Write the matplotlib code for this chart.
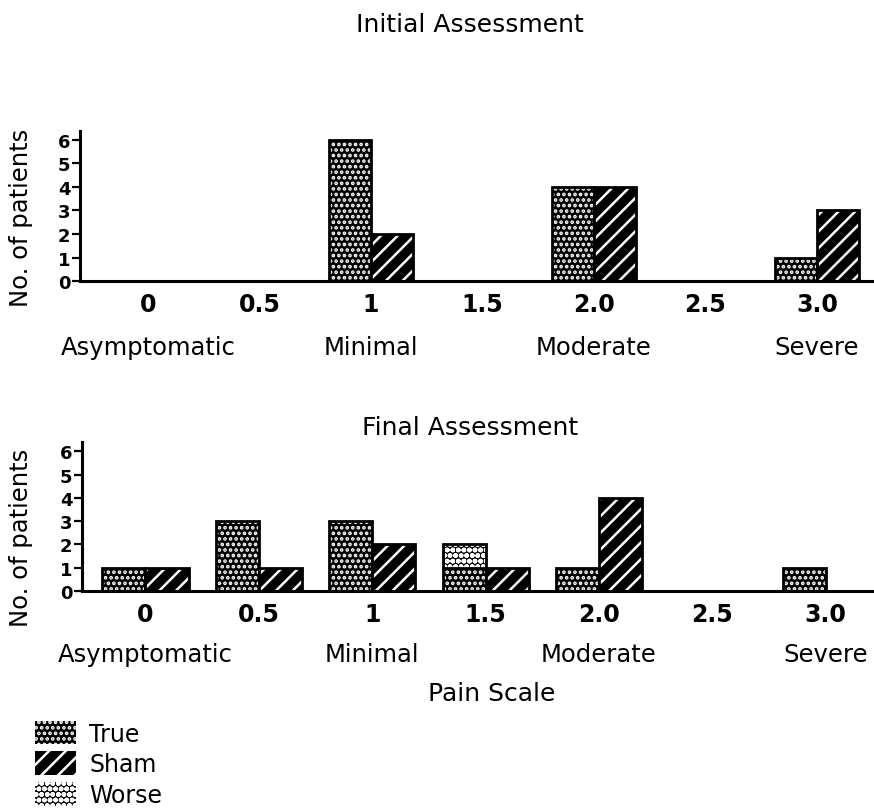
import matplotlib
matplotlib.use("Agg")
import matplotlib.pyplot as plt
from matplotlib.patches import Patch

plt.rcParams['font.family'] = 'DejaVu Sans'
plt.rcParams['hatch.linewidth'] = 1.8

### Data ###

# pain scale positions and their tick labels
pain_scale = [0, 0.5, 1, 1.5, 2.0, 2.5, 3.0]
tick_labels = ['0', '0.5', '1', '1.5', '2.0', '2.5', '3.0']
scale_words = ['Asymptomatic', 'Minimal', 'Moderate', 'Severe']
scale_word_pos = [0, 1, 2, 3]

# number of patients per pain score
initial_true = [0, 0, 6, 0, 4, 0, 1]
initial_sham = [0, 0, 2, 0, 4, 0, 3]
final_true = [1, 3, 3, 1, 1, 0, 1]
final_sham = [1, 1, 2, 1, 4, 0, 0]
final_worse = [0, 0, 0, 1, 0, 0, 0]   # stacked on the True bar

### Styles ###

BAR_W = 0.19
TRUE_STYLE = dict(facecolor='black', edgecolor='white', hatch='...')
SHAM_STYLE = dict(facecolor='black', edgecolor='white', hatch='//')
WORSE_STYLE = dict(facecolor='black', edgecolor='white', hatch='ooo')


def hatched_bars(ax, xs, heights, style, bottoms=None):
    """
    Draws patterned bars (white pattern on black) with a black outline.
    Zero-height bars are skipped.
    """
    if bottoms is None:
        bottoms = [0] * len(heights)
    keep = [i for i, h in enumerate(heights) if h > 0]
    xs = [xs[i] for i in keep]
    hs = [heights[i] for i in keep]
    bs = [bottoms[i] for i in keep]
    ax.bar(xs, hs, BAR_W, bottom=bs, linewidth=0, **style)
    ax.bar(xs, hs, BAR_W, bottom=bs, fill=False, edgecolor='black',
           linewidth=2)


def draw_panel(ax, true_vals, sham_vals, worse_vals, xlim, ytop, word_off):
    """
    One assessment panel: True / Sham bar pairs around each pain score.
    """
    x_true = [x - BAR_W / 2 for x in pain_scale]
    x_sham = [x + BAR_W / 2 for x in pain_scale]

    hatched_bars(ax, x_true, true_vals, TRUE_STYLE)
    hatched_bars(ax, x_sham, sham_vals, SHAM_STYLE)
    if worse_vals is not None:
        hatched_bars(ax, x_true, worse_vals, WORSE_STYLE, bottoms=true_vals)

    ax.set_xlim(*xlim)
    ax.set_ylim(0, ytop)
    for side in ['top', 'right']:
        ax.spines[side].set_visible(False)
    for side in ['left', 'bottom']:
        ax.spines[side].set_linewidth(2.2)

    ax.set_xticks(pain_scale)
    ax.set_xticklabels(tick_labels, fontsize=17, fontweight='bold')
    ax.tick_params(axis='x', length=0, pad=8)
    ax.set_yticks(range(7))
    ax.set_yticklabels([str(v) for v in range(7)], fontsize=13,
                       fontweight='bold')
    ax.tick_params(axis='y', length=6, width=1.6, pad=1)

    for word, pos in zip(scale_words, scale_word_pos):
        ax.annotate(word, xy=(pos, 0), xycoords=('data', 'axes fraction'),
                    xytext=(0, -word_off), textcoords='offset pixels',
                    ha='center', va='baseline', fontsize=17.5)


fig = plt.figure(figsize=(8.74, 8.12), dpi=100)

# Initial assessment
ax1 = fig.add_axes([0.0915, 0.6527, 0.9085, 0.1847])
draw_panel(ax1, initial_true, initial_sham, None,
           (-0.305, 3.256), 6.38, 73)

# Final assessment
ax2 = fig.add_axes([0.0938, 0.2709, 0.9062, 0.1835])
draw_panel(ax2, final_true, final_sham, final_worse,
           (-0.28, 3.213), 6.4, 70)

# Titles and labels
fig.text(0.538, 0.969, 'Initial Assessment', ha='center', va='center',
         fontsize=18)
fig.text(0.538, 0.473, 'Final Assessment', ha='center', va='center',
         fontsize=18)
fig.text(0.562, 0.145, 'Pain Scale', ha='center', va='center', fontsize=18)
fig.text(0.024, 0.732, 'No. of patients', rotation=90, ha='center',
         va='center', fontsize=17.5)
fig.text(0.024, 0.337, 'No. of patients', rotation=90, ha='center',
         va='center', fontsize=17.5)

# Legend
handles = [Patch(linewidth=0, label='True', **TRUE_STYLE),
           Patch(linewidth=0, label='Sham', **SHAM_STYLE),
           Patch(linewidth=0, label='Worse', **WORSE_STYLE)]
fig.legend(handles=handles, loc='upper left', bbox_to_anchor=(0.040, 0.111),
           frameon=False, fontsize=17, handlelength=1.74, handleheight=1.15,
           handletextpad=0.55, labelspacing=0.25, borderpad=0,
           borderaxespad=0)

plt.savefig('out.png', dpi=100)
